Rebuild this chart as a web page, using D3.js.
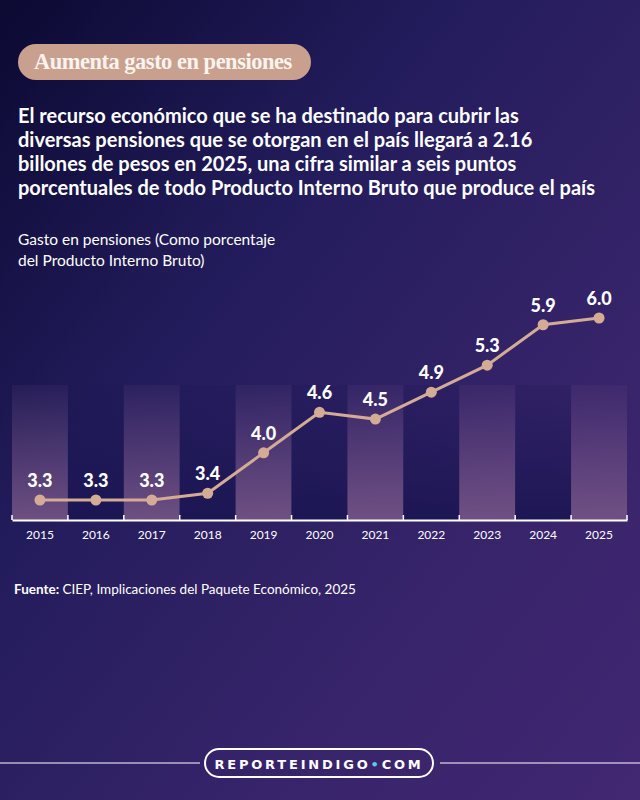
<!DOCTYPE html>
<html>
<head>
<meta charset="utf-8">
<script src="https://cdn.jsdelivr.net/npm/d3@7"></script>
<style>
  html, body { margin: 0; padding: 0; background: #1c1650; }
  svg { display: block; }
</style>
</head>
<body>
<div id="chart"></div>
<script>
/* Gasto en pensiones, % del PIB */

const width = 640;
const height = 800;

const years = ["2015", "2016", "2017", "2018", "2019", "2020", "2021", "2022", "2023", "2024", "2025"];
const values = [3.3, 3.3, 3.3, 3.4, 4.0, 4.6, 4.5, 4.9, 5.3, 5.9, 6.0];

const titleText = "Aumenta gasto en pensiones";
const bodyLines = [
  "El recurso económico que se ha destinado para cubrir las",
  "diversas pensiones que se otorgan en el país llegará a 2.16",
  "billones de pesos en 2025, una cifra similar a seis puntos",
  "porcentuales de todo Producto Interno Bruto que produce el país"
];
const subtitleLines = ["Gasto en pensiones (Como porcentaje", "del Producto Interno Bruto)"];

const svg = d3.select("#chart")
  .append("svg")
  .attr("width", width)
  .attr("height", height);

const defs = svg.append("defs");

// background gradient: dark navy top-left to purple bottom-right
const bg = defs.append("linearGradient")
  .attr("id", "bg")
  .attr("x1", "0").attr("y1", "0")
  .attr("x2", "1").attr("y2", "1");
bg.append("stop").attr("offset", "0%").attr("stop-color", "#0c0932");
bg.append("stop").attr("offset", "35%").attr("stop-color", "#231c5c");
bg.append("stop").attr("offset", "70%").attr("stop-color", "#37246a");
bg.append("stop").attr("offset", "100%").attr("stop-color", "#422772");

const colGrad = defs.append("linearGradient")
  .attr("id", "colGrad")
  .attr("x1", "0").attr("y1", "1")
  .attr("x2", "0").attr("y2", "0");
colGrad.append("stop").attr("offset", "0%").attr("stop-color", "#7a5888").attr("stop-opacity", 0.85);
colGrad.append("stop").attr("offset", "100%").attr("stop-color", "#7a5888").attr("stop-opacity", 0.1);

const darkGrad = defs.append("linearGradient")
  .attr("id", "darkGrad")
  .attr("x1", "0").attr("y1", "1")
  .attr("x2", "0").attr("y2", "0");
darkGrad.append("stop").attr("offset", "0%").attr("stop-color", "#1a1552").attr("stop-opacity", 0.9);
darkGrad.append("stop").attr("offset", "100%").attr("stop-color", "#1a1552").attr("stop-opacity", 0.2);

svg.append("rect")
  .attr("width", width)
  .attr("height", height)
  .attr("fill", "url(#bg)");

// ---- title pill
svg.append("rect")
  .attr("x", 18).attr("y", 44)
  .attr("width", 293).attr("height", 36)
  .attr("rx", 18)
  .attr("fill", "#c9a08e");

svg.append("text")
  .attr("x", 34).attr("y", 69)
  .attr("font-family", "Liberation Serif, serif")
  .attr("font-weight", "bold")
  .attr("font-size", 22.5)
  .attr("letter-spacing", -0.5)
  .attr("fill", "#fbf3ee")
  .text(titleText);

// ---- body text
svg.append("g")
  .selectAll("text")
  .data(bodyLines)
  .join("text")
  .attr("x", 18)
  .attr("y", (d, i) => 123 + i * 24)
  .attr("font-family", "Lato, sans-serif")
  .attr("font-weight", "bold")
  .attr("font-size", 20)
  .attr("fill", "#ffffff")
  .text(d => d);

// ---- subtitle
svg.append("g")
  .selectAll("text")
  .data(subtitleLines)
  .join("text")
  .attr("x", 18)
  .attr("y", (d, i) => 245 + i * 21)
  .attr("font-family", "Lato, sans-serif")
  .attr("font-size", 15.5)
  .attr("fill", "#ffffff")
  .text(d => d);

// ---- chart
const x = d3.scaleBand()
  .domain(years)
  .range([12, 627])
  .padding(0);

const y = d3.scaleLinear()
  .domain([3.3, 6.0])
  .range([500, 318]);

const axisY = 520;
const colTop = 385;

svg.append("g")
  .selectAll("rect")
  .data(years)
  .join("rect")
  .attr("x", d => x(d))
  .attr("y", colTop)
  .attr("width", x.bandwidth())
  .attr("height", axisY - colTop)
  .attr("fill", (d, i) => i % 2 === 0 ? "url(#colGrad)" : "url(#darkGrad)");

const axis = svg.append("g")
  .attr("transform", `translate(0,${axisY})`)
  .call(d3.axisBottom(x).tickSize(0).tickPadding(10));
axis.select(".domain").attr("stroke", "#ffffff").attr("stroke-width", 2);
axis.selectAll("text")
  .attr("font-family", "Lato, sans-serif")
  .attr("font-size", 12)
  .attr("fill", "#ffffff");

// small band-edge ticks
const edges = years.map(d => x(d)).concat([x(years[years.length - 1]) + x.bandwidth()]);
svg.append("g")
  .selectAll("line")
  .data(edges)
  .join("line")
  .attr("x1", d => d)
  .attr("x2", d => d)
  .attr("y1", axisY - 5)
  .attr("y2", axisY)
  .attr("stroke", "#ffffff")
  .attr("stroke-width", 1.5);

const cx = d => x(d) + x.bandwidth() / 2;

const line = d3.line()
  .x((d, i) => cx(years[i]))
  .y(d => y(d));

svg.append("path")
  .datum(values)
  .attr("d", line)
  .attr("fill", "none")
  .attr("stroke", "#d4ab95")
  .attr("stroke-width", 3);

svg.append("g")
  .selectAll("circle")
  .data(values)
  .join("circle")
  .attr("cx", (d, i) => cx(years[i]))
  .attr("cy", d => y(d))
  .attr("r", 5.5)
  .attr("fill", "#d4ab95");

svg.append("g")
  .selectAll("text")
  .data(values)
  .join("text")
  .attr("x", (d, i) => cx(years[i]))
  .attr("y", d => y(d) - 13)
  .attr("text-anchor", "middle")
  .attr("font-family", "Lato, sans-serif")
  .attr("font-weight", "900")
  .attr("font-size", 18)
  .attr("fill", "#ffffff")
  .text(d => d.toFixed(1));

// ---- source
const src = svg.append("text")
  .attr("x", 14).attr("y", 594)
  .attr("font-family", "Lato, sans-serif")
  .attr("font-size", 13.5)
  .attr("fill", "#ffffff");
src.append("tspan").attr("font-weight", "bold").text("Fuente: ");
src.append("tspan").text("CIEP, Implicaciones del Paquete Económico, 2025");

// ---- footer
svg.append("line")
  .attr("x1", 0).attr("x2", 200)
  .attr("y1", 763).attr("y2", 763)
  .attr("stroke", "#ffffff").attr("stroke-width", 1.2);
svg.append("line")
  .attr("x1", 440).attr("x2", 640)
  .attr("y1", 763).attr("y2", 763)
  .attr("stroke", "#ffffff").attr("stroke-width", 1.2);
svg.append("rect")
  .attr("x", 205).attr("y", 749)
  .attr("width", 228).attr("height", 28)
  .attr("rx", 14)
  .attr("fill", "none")
  .attr("stroke", "#ffffff")
  .attr("stroke-width", 2);

const brand = svg.append("text")
  .attr("x", 319).attr("y", 769)
  .attr("text-anchor", "middle")
  .attr("font-family", "DejaVu Sans, sans-serif")
  .attr("font-weight", "bold")
  .attr("font-size", 13)
  .attr("letter-spacing", 2.8)
  .attr("fill", "#ffffff");
brand.append("tspan").text("REPORTEINDIGO");
brand.append("tspan").attr("fill", "#5fc8f0").text("•");
brand.append("tspan").text("COM");
</script>
</body>
</html>
